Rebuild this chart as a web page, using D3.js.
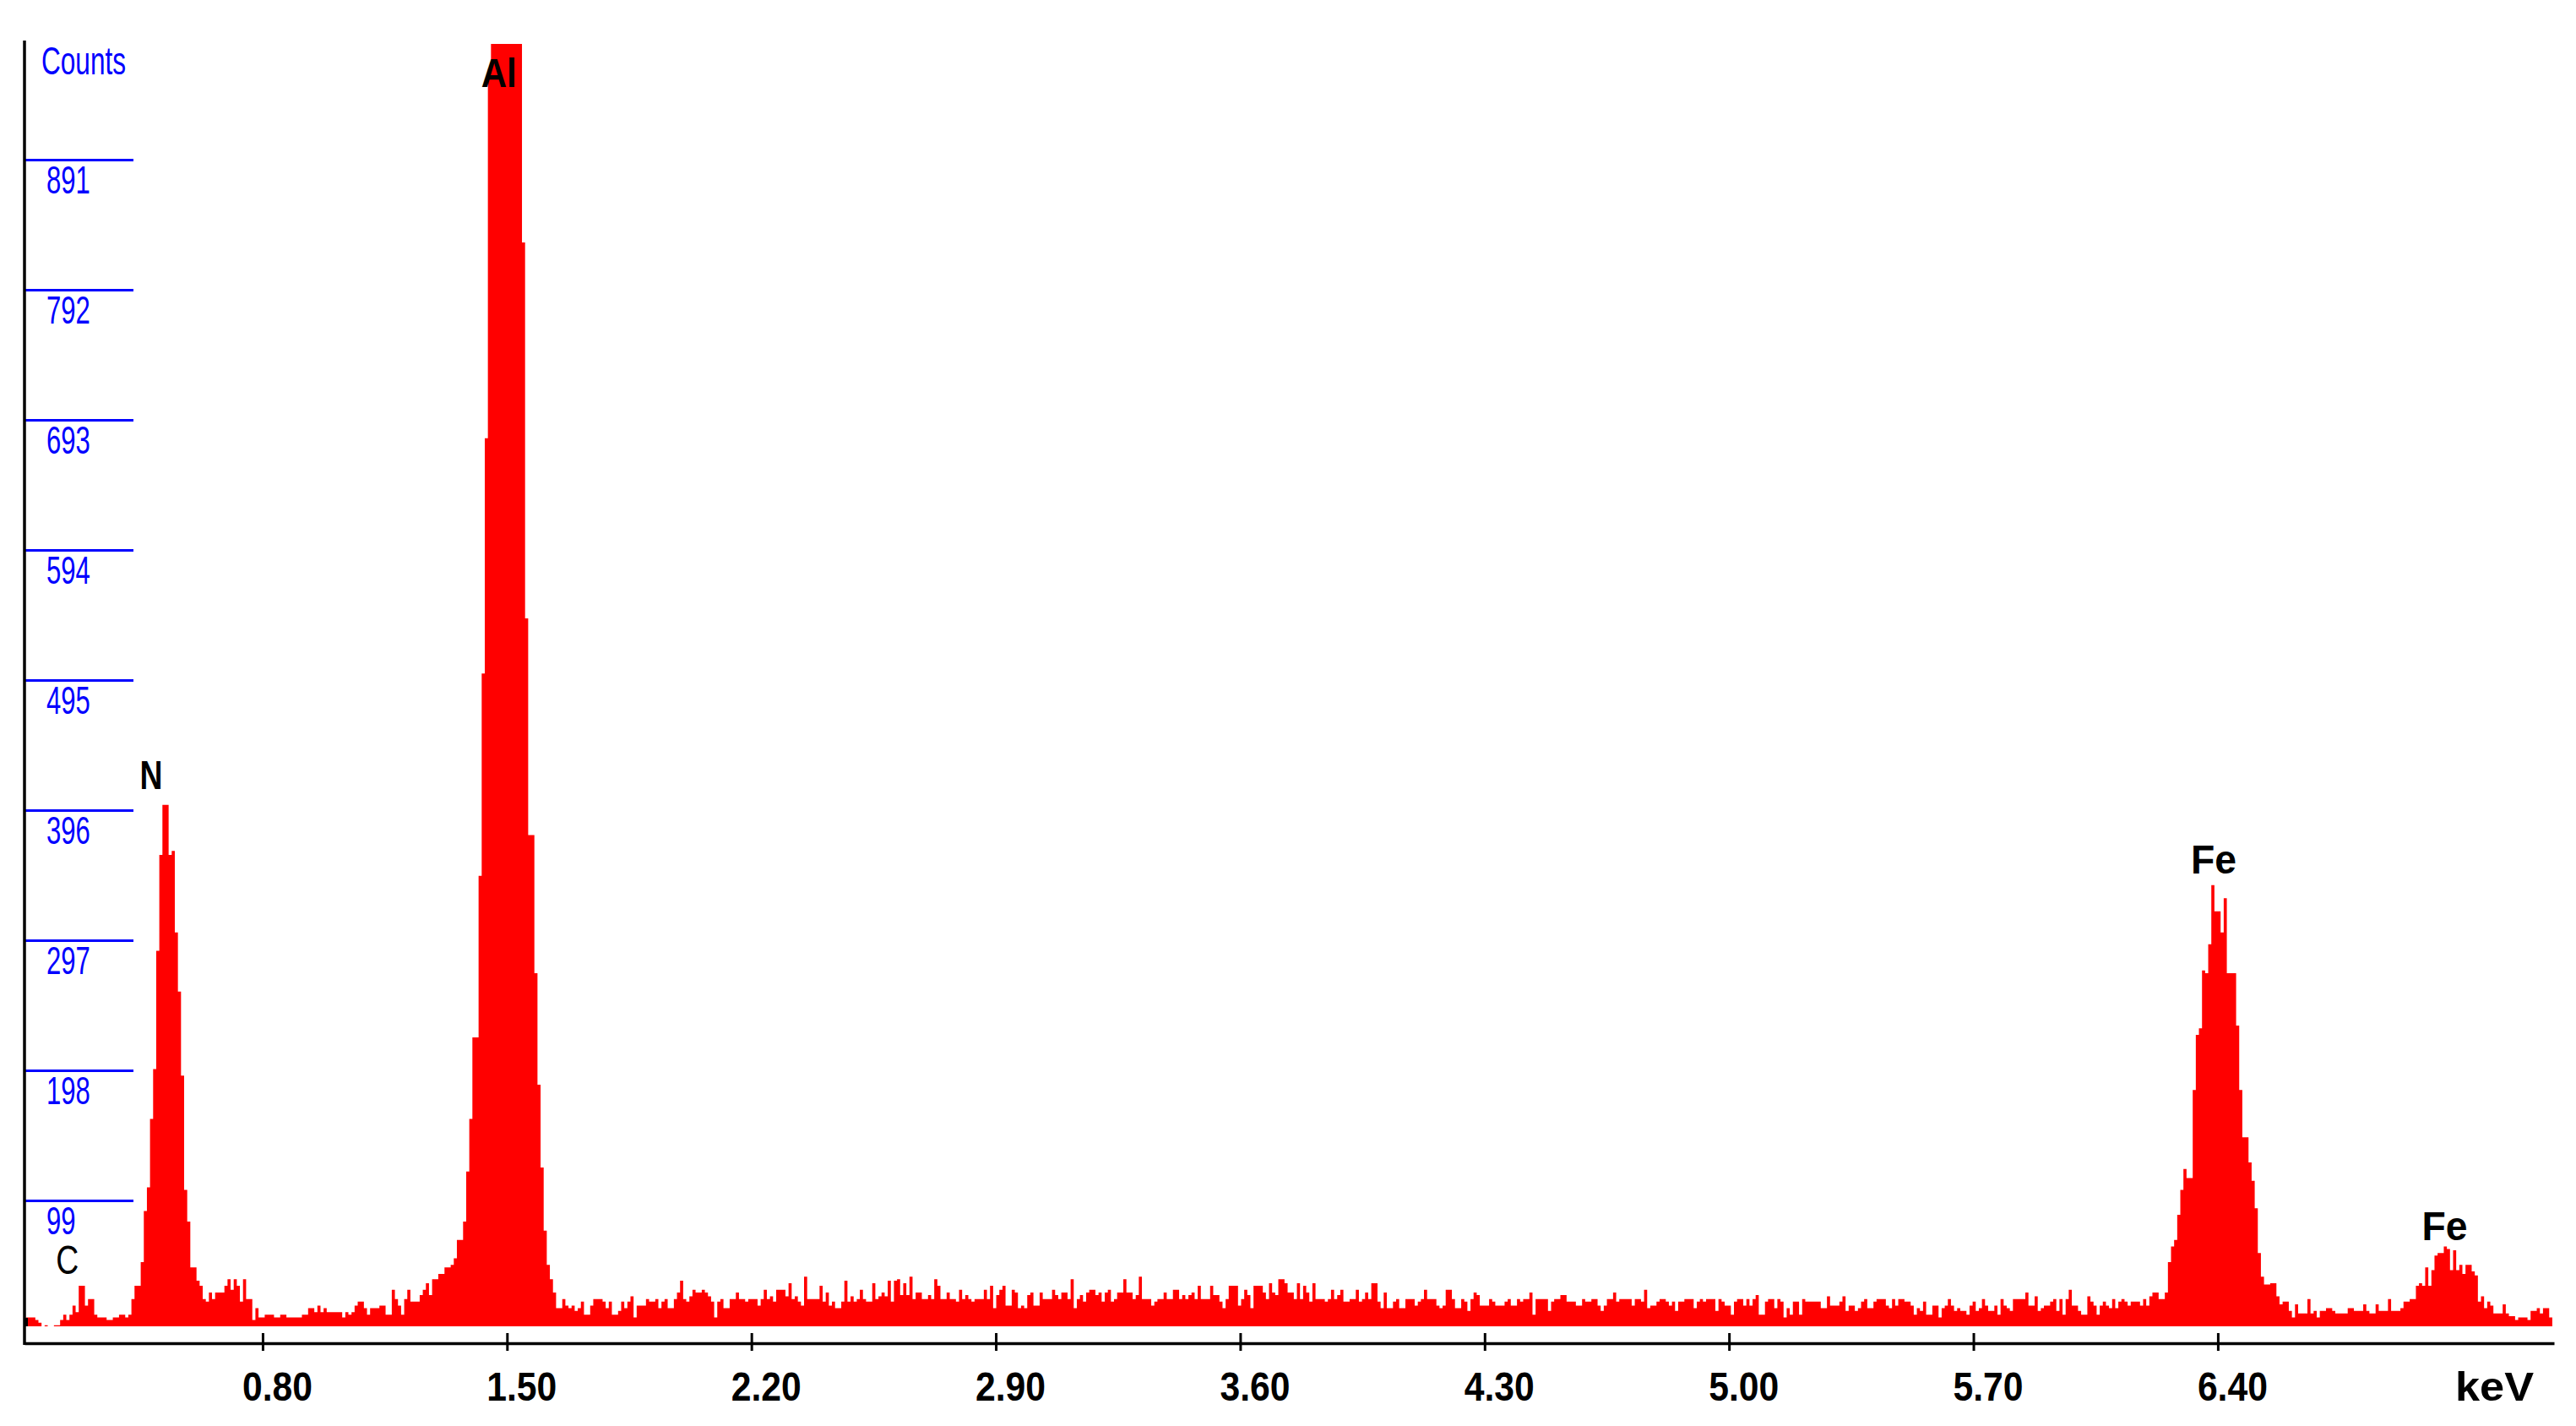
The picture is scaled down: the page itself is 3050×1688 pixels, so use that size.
<!DOCTYPE html>
<html>
<head>
<meta charset="utf-8">
<script src="https://cdn.jsdelivr.net/npm/d3@7"></script>
<style>
  body { margin: 0; background: #fff; }
  svg { display: block; background: #fff; }
  text { font-family: "Liberation Sans", Arial, sans-serif; }
</style>
</head>
<body>
<div id="spectrum"></div>
<script>
// counts per channel from left to right
var counts = [
  10,10,10,8,6,0,4,0,0,4,
  4,8,12,8,12,19,14,34,34,19,
  24,24,12,10,10,10,8,8,10,10,
  12,12,10,12,24,34,34,52,91,109,
  161,199,289,362,400,400,362,365,303,258,
  194,107,83,48,48,38,34,24,22,29,
  24,29,29,29,34,39,31,39,34,22,
  39,24,24,8,17,10,10,12,12,12,
  10,10,12,12,10,10,10,10,10,12,
  12,17,17,14,19,14,17,14,14,14,
  14,14,10,14,12,14,19,22,22,17,
  12,17,17,17,19,19,12,12,31,24,
  19,12,24,31,22,22,22,27,31,36,
  27,39,39,43,43,48,48,50,55,69,
  69,83,121,161,223,223,346,500,679,960,
  1080,1250,1400,1520,1580,1570,1500,1380,1220,1050,
  828,542,377,377,272,187,124,76,50,39,
  29,17,17,24,19,17,19,15,17,22,
  12,12,19,24,24,24,22,17,22,12,
  12,15,22,17,22,26,10,19,19,19,
  24,22,22,24,17,22,24,17,17,24,
  29,38,24,22,26,31,29,29,31,29,
  26,22,10,22,24,17,17,24,24,29,
  24,24,22,24,24,24,19,24,31,24,
  26,22,31,31,31,26,36,24,26,22,
  19,41,24,24,24,24,34,22,29,19,
  22,17,17,22,38,22,26,22,24,31,
  24,22,22,36,24,26,29,26,38,22,
  38,
  39,27,36,27,41,24,29,29,24,24,
  27,24,39,34,24,24,29,24,24,22,
  31,24,27,24,22,24,24,24,31,24,
  34,17,27,31,34,19,19,31,29,17,
  19,17,27,29,19,19,29,24,24,24,
  31,27,24,29,29,24,39,17,24,27,
  22,29,31,31,27,29,22,29,31,22,
  24,29,29,39,29,29,24,27,41,24,
  24,24,19,22,24,24,29,24,24,31,
  31,24,27,24,27,29,24,34,24,24,
  24,34,27,27,22,17,24,34,34,34,
  19,24,31,27,17,34,34,34,29,24,
  36,29,27,39,39,36,29,29,24,36,
  24,34,29,22,36,24,24,24,22,24,
  31,
  24,27,31,22,22,24,24,31,22,24,
  29,24,36,36,22,17,29,17,17,22,
  24,17,17,24,24,24,19,22,24,31,
  24,24,24,19,17,19,31,31,24,17,
  17,24,22,15,24,29,27,19,19,19,
  24,22,19,19,19,22,24,19,19,24,
  22,24,24,29,12,24,24,24,24,15,
  22,24,24,27,27,22,22,22,19,19,
  24,22,22,24,24,19,15,19,24,24,
  29,22,24,24,24,24,19,24,24,22,
  31,17,19,19,22,24,24,22,19,22,
  15,22,22,24,24,24,17,22,24,22,
  24,24,24,15,24,22,19,19,12,22,
  24,24,19,24,19,24,27,12,12,22,
  24,24,
  17,24,22,10,17,12,22,22,12,24,
  22,22,22,22,22,17,17,26,19,19,
  19,22,26,15,19,19,15,17,22,24,
  17,17,22,24,24,24,19,17,24,19,
  24,24,22,22,19,12,17,15,22,12,
  12,19,19,10,17,19,24,19,15,17,
  15,15,12,19,22,15,17,24,19,15,
  15,19,12,24,19,17,15,24,24,24,
  24,29,19,19,26,15,17,19,19,22,
  24,15,24,12,24,31,19,19,15,12,
  12,26,22,19,12,19,22,19,17,24,
  17,22,24,22,19,22,22,22,19,24,
  19,26,29,29,24,24,29,52,64,69,
  88,107,123,116,116,
  183,225,230,274,272,294,339,319,319,303,
  329,272,272,272,232,183,147,147,128,114,
  93,59,41,35,35,36,36,26,20,22,
  22,15,10,20,13,13,13,24,13,15,
  10,15,15,17,17,15,13,13,13,13,
  17,17,15,15,15,20,15,13,13,20,
  15,15,15,24,15,15,15,17,22,22,
  24,24,34,36,34,48,34,46,57,59,
  59,64,62,46,61,46,50,43,50,50,
  45,42,22,26,17,22,19,13,13,13,
  20,13,11,11,8,10,10,10,8,15,
  15,17,13,17,17,10
];

var startKeV = 0.1224;    // energy of the first channel
var channelKeV = 0.008878; // channel width

var xTicks = [0.8, 1.5, 2.2, 2.9, 3.6, 4.3, 5.0, 5.7, 6.4];
var yTicks = [99, 198, 297, 396, 495, 594, 693, 792, 891];

var peakLabels = ["C", "N", "Al", "Fe", "Fe"];
var peakKeV = [0.241, 0.481, 1.477, 6.388, 7.05];
var peakCounts = [43, 412, 946, 348, 69];

var width = 3050,
  height = 1688;

var svg = d3
  .select("#spectrum")
  .append("svg")
  .attr("width", width)
  .attr("height", height);

var x = d3.scaleLinear().domain([0.118, 7.363]).range([29, 3024]);
var y = d3.scaleLinear().domain([0, 891]).range([1575, 189]);

// the spectrum sits a few pixels above the zero of the count scale
var baseline = y(0) - 5;
var plotTop = 52;

svg
  .append("clipPath")
  .attr("id", "plot-clip")
  .append("rect")
  .attr("x", 29)
  .attr("y", plotTop)
  .attr("width", 3000)
  .attr("height", baseline - plotTop);

var points = counts.map(function(c, i) {
  return { e: startKeV + i * channelKeV, c: c };
});
points.push({
  e: startKeV + counts.length * channelKeV,
  c: counts[counts.length - 1]
});

var area = d3
  .area()
  .curve(d3.curveStepAfter)
  .x(function(d) {
    return x(d.e);
  })
  .y0(baseline)
  .y1(function(d) {
    return Math.min(y(d.c), baseline);
  });

svg
  .append("path")
  .datum(points)
  .attr("clip-path", "url(#plot-clip)")
  .attr("fill", "#ff0000")
  .attr("d", area);

// y axis: blue tick bars with the value under each
var yAxis = d3
  .axisRight(y)
  .tickValues(yTicks)
  .tickSize(129)
  .tickSizeOuter(0);

svg
  .append("g")
  .attr("class", "y-axis")
  .attr("transform", "translate(29,0)")
  .call(yAxis)
  .call(function(g) {
    g.select(".domain").remove();
    g.selectAll(".tick line")
      .attr("stroke", "#0000ff")
      .attr("stroke-width", 3);
    g.selectAll(".tick text")
      .attr("x", 26)
      .attr("y", 39)
      .attr("dy", null)
      .attr("text-anchor", "start")
      .attr("fill", "#0000ff")
      .attr("font-size", 46)
      .attr("textLength", function(d) {
        return String(d).length * 17.3;
      })
      .attr("lengthAdjust", "spacingAndGlyphs");
  });

svg
  .append("line")
  .attr("x1", 29)
  .attr("x2", 29)
  .attr("y1", 48)
  .attr("y2", 1592)
  .attr("stroke", "#000")
  .attr("stroke-width", 3.5);

svg
  .append("rect")
  .attr("x", 29)
  .attr("y", baseline - 10)
  .attr("width", 4)
  .attr("height", 10)
  .attr("fill", "#000");

svg
  .append("text")
  .attr("x", 49)
  .attr("y", 88)
  .attr("fill", "#0000ff")
  .attr("font-size", 46)
  .attr("textLength", 100)
  .attr("lengthAdjust", "spacingAndGlyphs")
  .text("Counts");

// x axis: ticks cross the line, labels sit a little right of the tick
var xAxis = d3
  .axisBottom(x)
  .tickValues(xTicks)
  .tickFormat(d3.format(".2f"))
  .tickSizeInner(9)
  .tickSizeOuter(0);

svg
  .append("g")
  .attr("class", "x-axis")
  .attr("transform", "translate(0,1590)")
  .call(xAxis)
  .call(function(g) {
    g.select(".domain")
      .attr("stroke", "#000")
      .attr("stroke-width", 3.5);
    g.selectAll(".tick line")
      .attr("y1", -12)
      .attr("y2", 9)
      .attr("stroke-width", 3);
    g.selectAll(".tick text")
      .attr("y", 68)
      .attr("dy", null)
      .attr("dx", 17)
      .attr("fill", "#000")
      .attr("font-size", 48)
      .attr("font-weight", "bold")
      .attr("textLength", 83)
      .attr("lengthAdjust", "spacingAndGlyphs");
  });

svg
  .append("text")
  .attr("x", 2907)
  .attr("y", 1658)
  .attr("font-size", 48)
  .attr("font-weight", "bold")
  .attr("textLength", 93)
  .attr("lengthAdjust", "spacingAndGlyphs")
  .text("keV");

// element labels over the peaks
var labelWidth = { C: 27, N: 27, Al: 42, Fe: 54 };

svg
  .selectAll(".peak-label")
  .data(peakLabels)
  .enter()
  .append("text")
  .attr("class", "peak-label")
  .attr("x", function(d, i) {
    return x(peakKeV[i]);
  })
  .attr("y", function(d, i) {
    return y(peakCounts[i]);
  })
  .attr("text-anchor", "middle")
  .attr("font-size", 48)
  .attr("font-weight", function(d) {
    return d === "C" ? "normal" : "bold";
  })
  .attr("textLength", function(d) {
    return labelWidth[d];
  })
  .attr("lengthAdjust", "spacingAndGlyphs")
  .attr("fill", "#000")
  .text(function(d) {
    return d;
  });
</script>
</body>
</html>
